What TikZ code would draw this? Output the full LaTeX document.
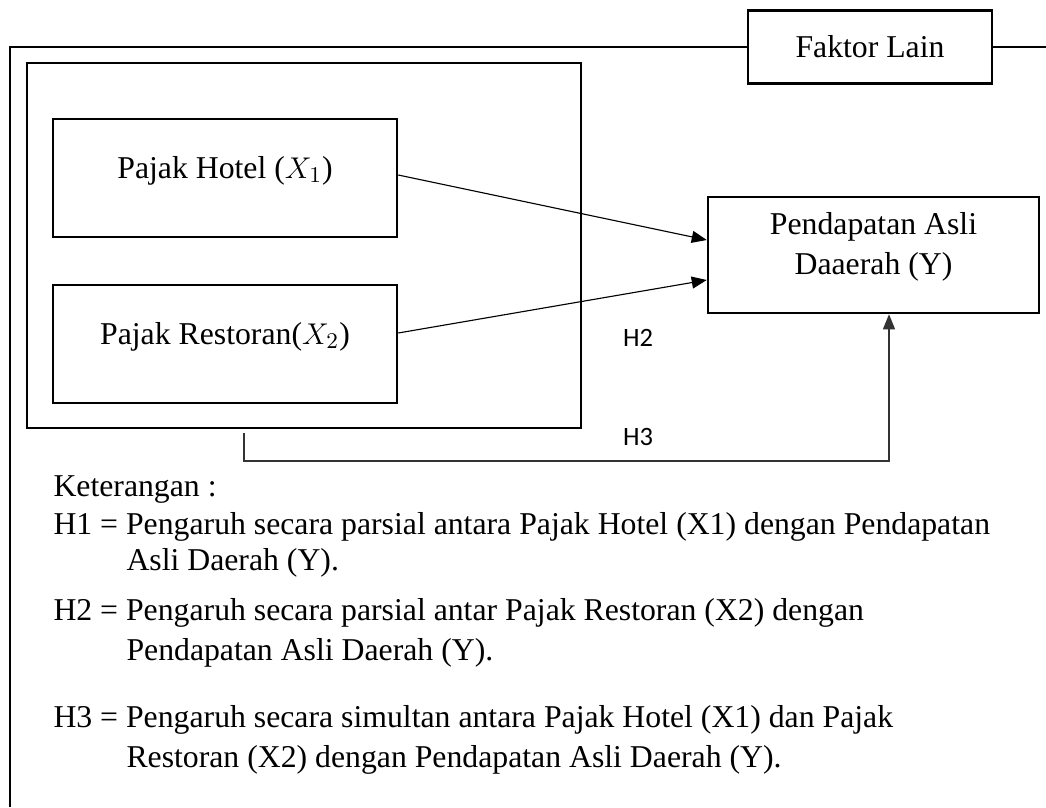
\documentclass[tikz,border=0pt]{standalone}
\usepackage{fontspec}
\setmainfont{Liberation Serif}
\newfontfamily\hlabelfont{Carlito}
\usetikzlibrary{positioning,calc,arrows.meta}

\begin{document}
\begin{tikzpicture}[x=0.4pt, y=-0.4pt,
  every node/.style={font=\fontsize{12.7pt}{16pt}\selectfont},
  varbox/.style={draw, line width=1pt, minimum width=137.6pt, minimum height=47.2pt, text height=0pt, text depth=0pt},
  infl/.style={line width=0.45pt, -{Triangle[length=6pt,width=4.8pt]}},
  hlabel/.style={font=\hlabelfont\fontsize{10.6pt}{12pt}\selectfont},
  note/.style={anchor=base west, inner sep=0pt}]
  \useasboundingbox (0,0) rectangle (1046,807);
  \node[draw, line width=1pt, minimum width=97.6pt, minimum height=29.2pt] (faktor) at (870,47) {Faktor Lain};
  \draw[line width=1pt] (10,807) -- (10,47) -- (faktor.west);
  \draw[line width=1pt] (faktor.east) -- (1046,47);
  \draw[line width=1pt] (27,63) rectangle (581,428);
  \node[varbox] (hotel) at (225,178) {Pajak Hotel ($X_1$)};
  \node[varbox] (resto) at (225,344) {Pajak Restoran($X_2$)};
  \node[draw, line width=1pt, minimum width=132.4pt, minimum height=46.4pt] (pad) at (873.5,255) {};
  \node[align=center] (padtext) at (873.5,247) {Pendapatan Asli\\Daaerah (Y)};
  \draw[infl] ($(hotel.east)+(0,-3)$) -- ($(pad.west)+(0,-15)$);
  \draw[infl] ($(resto.east)+(0,-11)$) -- ($(pad.west)+(0,25)$);
  \node[hlabel] (lblH2) at (638,338) {H2};
  \node[hlabel] (lblH3) at (638,437) {H3};
  \coordinate (h3from) at (244,433);
  \coordinate (h3turn) at (889,461);
  \draw[infl, draw=black!80] (h3from) |- (h3turn) -- (h3turn |- pad.south);
  \node[note] (ket) at (53,496) {Keterangan :};
  \node[note] (noteH1) at (53,534) {H1 = Pengaruh secara parsial antara Pajak Hotel (X1) dengan Pendapatan};
  \node[note] (noteH1b) at (126,570) {Asli Daerah (Y).};
  \node[note] (noteH2) at (53,620) {H2 = Pengaruh secara parsial antar Pajak Restoran (X2) dengan};
  \node[note] (noteH2b) at (126,660) {Pendapatan Asli Daerah (Y).};
  \node[note] (noteH3) at (53,727) {H3 = Pengaruh secara simultan antara Pajak Hotel (X1) dan Pajak};
  \node[note] (noteH3b) at (126,767) {Restoran (X2) dengan Pendapatan Asli Daerah (Y).};
\end{tikzpicture}
\end{document}
